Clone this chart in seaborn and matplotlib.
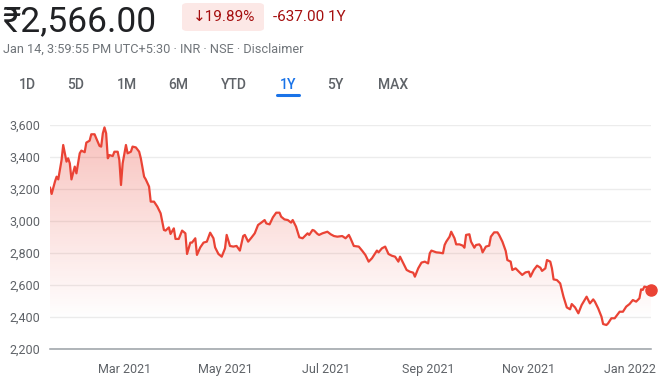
import matplotlib
matplotlib.use("Agg")
import matplotlib.pyplot as plt
import matplotlib.dates as mdates
from matplotlib.patches import FancyBboxPatch, PathPatch
import seaborn as sns
import pandas as pd
import numpy as np

# --- data (approximate closing prices) ---
dates = [
    "2021-01-15", "2021-01-16", "2021-01-18", "2021-01-19", "2021-01-20", "2021-01-22", "2021-01-23",
    "2021-01-25", "2021-01-26", "2021-01-27", "2021-01-28", "2021-01-30", "2021-01-31",
    "2021-02-02", "2021-02-03", "2021-02-05", "2021-02-06", "2021-02-08", "2021-02-09", "2021-02-11",
    "2021-02-12", "2021-02-14", "2021-02-15", "2021-02-16", "2021-02-17", "2021-02-18", "2021-02-19",
    "2021-02-20", "2021-02-22", "2021-02-23", "2021-02-25", "2021-02-26", "2021-02-27", "2021-02-28",
    "2021-03-02", "2021-03-03", "2021-03-05", "2021-03-06", "2021-03-08", "2021-03-10", "2021-03-11",
    "2021-03-13", "2021-03-14", "2021-03-16", "2021-03-17", "2021-03-19", "2021-03-21", "2021-03-23",
    "2021-03-25", "2021-03-26", "2021-03-28", "2021-03-29", "2021-03-31",
    "2021-04-01", "2021-04-03", "2021-04-05", "2021-04-07", "2021-04-08", "2021-04-10", "2021-04-11",
    "2021-04-13", "2021-04-14", "2021-04-16", "2021-04-18", "2021-04-20", "2021-04-22", "2021-04-24",
    "2021-04-25", "2021-04-27", "2021-04-29",
    "2021-05-01", "2021-05-02", "2021-05-04", "2021-05-06", "2021-05-08", "2021-05-10", "2021-05-12",
    "2021-05-13", "2021-05-15", "2021-05-17", "2021-05-19", "2021-05-21", "2021-05-23", "2021-05-25",
    "2021-05-26", "2021-05-28", "2021-05-30",
    "2021-06-01", "2021-06-03", "2021-06-04", "2021-06-06", "2021-06-08", "2021-06-10", "2021-06-11",
    "2021-06-13", "2021-06-15", "2021-06-17", "2021-06-19", "2021-06-20", "2021-06-21", "2021-06-23",
    "2021-06-24", "2021-06-26", "2021-06-27", "2021-06-29",
    "2021-07-02", "2021-07-04", "2021-07-06", "2021-07-08", "2021-07-11", "2021-07-13", "2021-07-15",
    "2021-07-16", "2021-07-18", "2021-07-21", "2021-07-23", "2021-07-25", "2021-07-27", "2021-07-29",
    "2021-08-01", "2021-08-02", "2021-08-04", "2021-08-06", "2021-08-08", "2021-08-10", "2021-08-12",
    "2021-08-14", "2021-08-15", "2021-08-17", "2021-08-19", "2021-08-21", "2021-08-23", "2021-08-24",
    "2021-08-26", "2021-08-28", "2021-08-30",
    "2021-09-01", "2021-09-02", "2021-09-03", "2021-09-06", "2021-09-08", "2021-09-10", "2021-09-11",
    "2021-09-12", "2021-09-14", "2021-09-15", "2021-09-17", "2021-09-18", "2021-09-20", "2021-09-22",
    "2021-09-23", "2021-09-24", "2021-09-26", "2021-09-27", "2021-09-29", "2021-09-30",
    "2021-10-02", "2021-10-03", "2021-10-04", "2021-10-06", "2021-10-08", "2021-10-09", "2021-10-11",
    "2021-10-13", "2021-10-14", "2021-10-16", "2021-10-18", "2021-10-19", "2021-10-21", "2021-10-22",
    "2021-10-24", "2021-10-26", "2021-10-28", "2021-10-30",
    "2021-11-01", "2021-11-02", "2021-11-04", "2021-11-06", "2021-11-08", "2021-11-09", "2021-11-11",
    "2021-11-12", "2021-11-14", "2021-11-15", "2021-11-16", "2021-11-18", "2021-11-20", "2021-11-22",
    "2021-11-24", "2021-11-26", "2021-11-27", "2021-11-29",
    "2021-12-01", "2021-12-03", "2021-12-05", "2021-12-06", "2021-12-08", "2021-12-10", "2021-12-11",
    "2021-12-13", "2021-12-15", "2021-12-16", "2021-12-18", "2021-12-19", "2021-12-21", "2021-12-23",
    "2021-12-24", "2021-12-26", "2021-12-28", "2021-12-30",
    "2022-01-01", "2022-01-03", "2022-01-05", "2022-01-07", "2022-01-08", "2022-01-09", "2022-01-10",
    "2022-01-12", "2022-01-14",
]
prices = [
    3210, 3169, 3246, 3277, 3260, 3381, 3475,
    3371, 3392, 3360, 3260, 3340, 3298,
    3423, 3440, 3430, 3490, 3502, 3542, 3542,
    3517, 3469, 3465, 3548, 3585, 3548, 3392,
    3412, 3406, 3433, 3433, 3381, 3225, 3360,
    3475, 3423, 3433, 3465, 3460, 3433, 3392,
    3277, 3260, 3215, 3121, 3121, 3090, 3048,
    2944, 2940, 2960, 2919, 2954,
    2888, 2888, 2940, 2923, 2794, 2865, 2865,
    2892, 2788, 2835, 2865, 2871, 2927, 2892,
    2835, 2794, 2777,
    2829, 2913, 2844, 2840, 2844, 2815, 2906,
    2913, 2871, 2896, 2923, 2975, 2990, 3006,
    2985, 2979, 3023,
    3052, 3052, 3027, 3010, 3006, 2990, 3006,
    2965, 2898, 2892, 2913, 2923, 2913, 2944,
    2940, 2919, 2913, 2923,
    2933, 2917, 2906, 2902, 2906, 2892, 2913,
    2892, 2844, 2840, 2815, 2788, 2746, 2767,
    2815, 2804, 2829, 2840, 2794, 2783, 2777,
    2746, 2777, 2735, 2694, 2683, 2677, 2652,
    2704, 2740, 2746,
    2735, 2798, 2815, 2804, 2802, 2798, 2850,
    2871, 2902, 2933, 2892, 2854, 2854, 2846,
    2833, 2913, 2917, 2871, 2833, 2850,
    2854, 2840, 2804, 2840, 2846, 2902, 2929,
    2929, 2913, 2871, 2813, 2756, 2746, 2694,
    2704, 2683, 2663, 2679,
    2683, 2652, 2694, 2721, 2708, 2688, 2704,
    2756, 2746, 2704, 2635, 2631, 2610, 2527,
    2460, 2448, 2481, 2460,
    2423, 2475, 2510, 2527, 2485, 2510, 2496,
    2454, 2402, 2356, 2350, 2360, 2392, 2392,
    2406, 2433, 2433, 2465,
    2481, 2506, 2496, 2517, 2573, 2569, 2590,
    2585, 2566,
]
y_ticks = [2200, 2400, 2600, 2800, 3000, 3200, 3400, 3600]
x_ticks = ["2021-03-01", "2021-05-01", "2021-07-01", "2021-09-01", "2021-11-01", "2022-01-01"]
tabs = ["1D", "5D", "1M", "6M", "YTD", "1Y", "5Y", "MAX"]

df = pd.DataFrame({"date": pd.to_datetime(dates), "price": prices})

RED = "#ea4335"
DARK_RED = "#a50e0e"
GREY = "#5f6368"
FONT = ["Roboto", "DejaVu Sans"]

sns.set_theme(style="white")
plt.rcParams["font.family"] = FONT

W, H = 659, 379
fig = plt.figure(figsize=(W / 100, H / 100), dpi=100)

def fx(px):
    return px / W

def fy(py):
    return 1 - py / H

# --- header ---
fig.text(fx(2), fy(31), "\u20b92,566.00", fontsize=25.5, color="#202124", va="baseline", ha="left")
badge = FancyBboxPatch((fx(182), fy(31)), fx(264) - fx(182), fy(3) - fy(31),
                       boxstyle="round,pad=0,rounding_size=0.008",
                       transform=fig.transFigure, facecolor="#fce8e6", edgecolor="none")
fig.patches.append(badge)
fig.text(fx(224), fy(17), "\u219319.89%", fontsize=11, color=DARK_RED, va="center", ha="center",
         family=["Roboto", "DejaVu Sans"])
fig.text(fx(273), fy(17), "-637.00 1Y", fontsize=11, color=DARK_RED, va="center", ha="left")
fig.text(fx(3), fy(49), "Jan 14, 3:59:55 PM UTC+5:30 \u00b7 INR \u00b7 NSE \u00b7 Disclaimer",
         fontsize=9.2, color="#70757a", va="center", ha="left")

tab_x = [27, 76, 127, 178, 234, 288, 335, 393]
for label, px in zip(tabs, tab_x):
    col = "#1a73e8" if label == "1Y" else GREY
    fig.text(fx(px), fy(85), label, fontsize=10, color=col, va="center", ha="center", weight="medium")
fig.add_artist(plt.Line2D([fx(277), fx(299)], [fy(95), fy(95)], transform=fig.transFigure,
                          color="#1a73e8", lw=2.2, solid_capstyle="round"))

# --- chart ---
ax = fig.add_axes([fx(50), fy(349), fx(651) - fx(50), fy(125) - fy(349)])
x0, x1 = df["date"].iloc[0], df["date"].iloc[-1]

# gradient fill under the line
poly = ax.fill_between(df["date"], df["price"], y_ticks[0], color="none", lw=0)
clip = PathPatch(poly.get_paths()[0], transform=ax.transData, facecolor="none", edgecolor="none")
ax.add_patch(clip)
levels = np.linspace(y_ticks[0], y_ticks[-1], 256)
alpha = np.clip((levels - 2380) / (3600 - 2380), 0, 1) * 0.33
rgba = np.zeros((256, 1, 4))
rgba[..., 0], rgba[..., 1], rgba[..., 2] = 0.918, 0.263, 0.208
rgba[:, 0, 3] = alpha
img = ax.imshow(rgba, origin="lower", aspect="auto", interpolation="bilinear",
                extent=[mdates.date2num(x0), mdates.date2num(x1), y_ticks[0], y_ticks[-1]], zorder=1)
img.set_clip_path(clip)

sns.lineplot(data=df, x="date", y="price", ax=ax, color=RED, lw=1.6, zorder=3)
ax.plot([x1], [df["price"].iloc[-1]], "o", color=RED, ms=8, clip_on=False, zorder=4)

ax.set_xlim(x0, x1)
ax.set_ylim(y_ticks[0], y_ticks[-1])
ax.set_yticks(y_ticks)
ax.set_yticklabels([f"{v:,}" for v in y_ticks])
ax.set_xticks(pd.to_datetime(x_ticks))
ax.xaxis.set_major_formatter(mdates.DateFormatter("%b %Y"))
ax.set_xlabel("")
ax.set_ylabel("")
ax.yaxis.grid(True, color="#ececec", lw=1)
ax.set_axisbelow(True)
for side in ["top", "right", "left"]:
    ax.spines[side].set_visible(False)
ax.spines["bottom"].set_color("#9aa0a6")
ax.spines["bottom"].set_linewidth(1.1)
ax.tick_params(axis="y", length=0, pad=7, labelsize=9, labelcolor=GREY)
ax.tick_params(axis="x", length=5, width=1.3, color="#80868b", direction="out", pad=5,
               labelsize=9, labelcolor=GREY)
ax.patch.set_alpha(0)

fig.savefig("out.png", dpi=100)
